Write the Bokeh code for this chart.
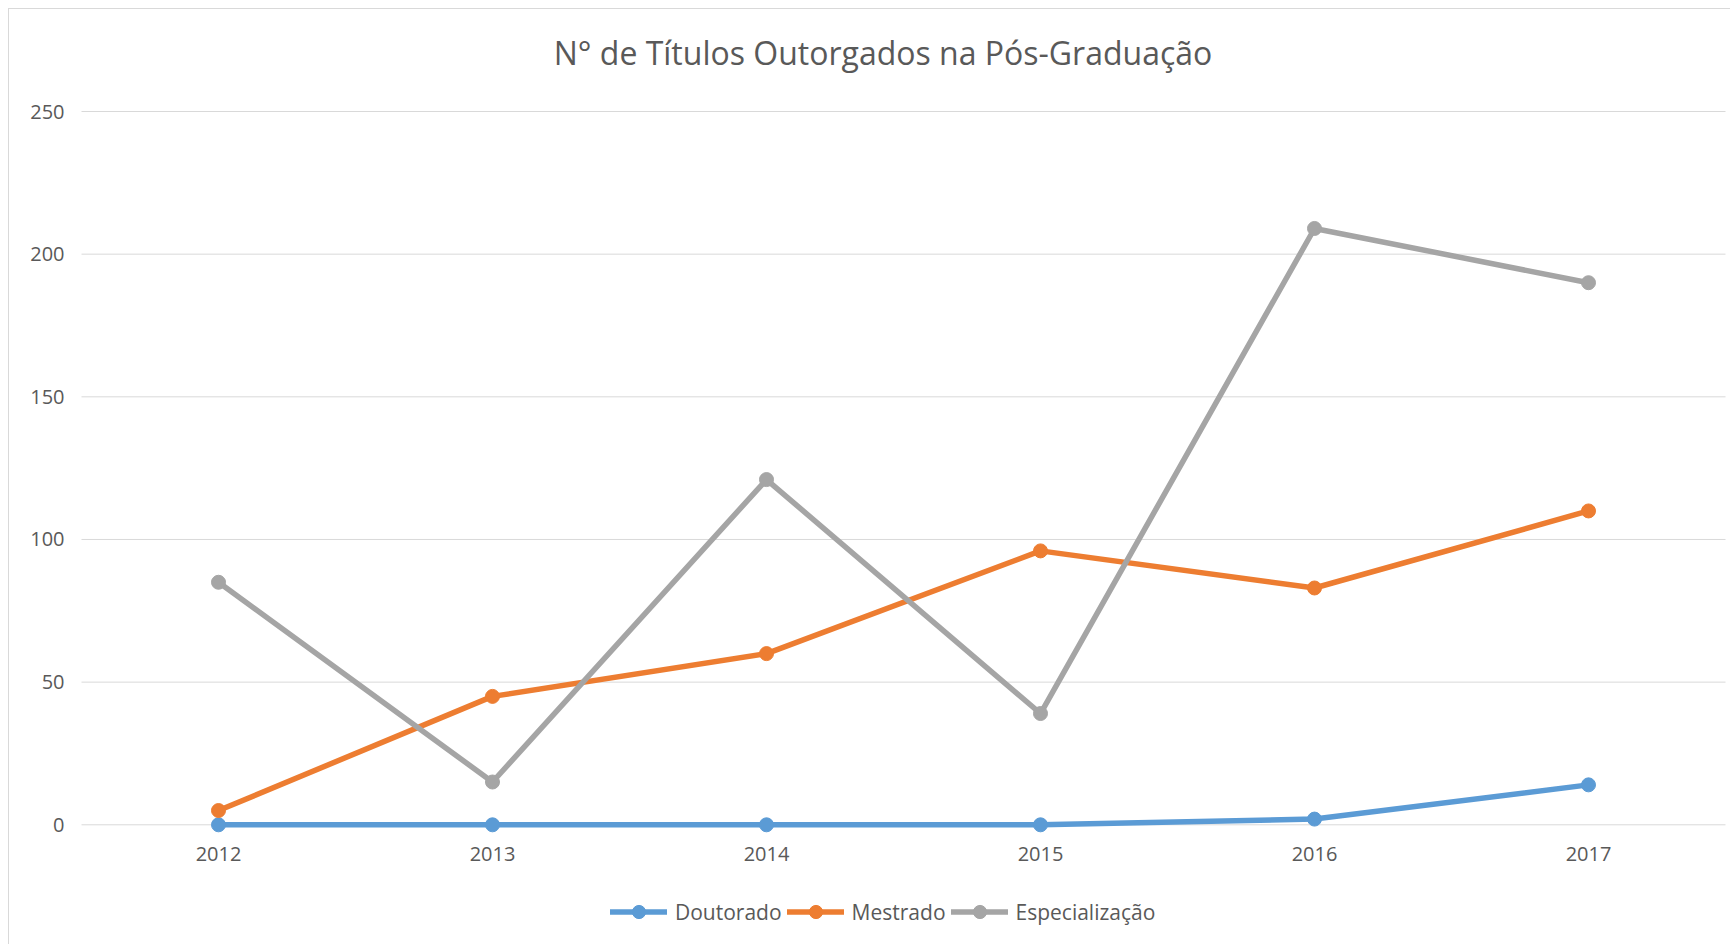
from bokeh.plotting import figure
from bokeh.models import Range1d, Legend, LegendItem, Label
from bokeh.core.properties import value
from bokeh.embed import file_html
from bokeh.resources import INLINE

years = ["2012", "2013", "2014", "2015", "2016", "2017"]
doutorado = [0, 0, 0, 0, 2, 14]
mestrado = [5, 45, 60, 96, 83, 110]
especializacao = [85, 15, 121, 39, 209, 190]
y_ticks = [0, 50, 100, 150, 200, 250]
series_names = ["Doutorado", "Mestrado", "Especialização"]
title_text = "N° de Títulos Outorgados na Pós-Graduação"

FONT = "Open Sans"
TXT = "#595959"
GRID = "#D9D9D9"
colors = ["#5B9BD5", "#ED7D31", "#A5A5A5"]

# canvas / plot-area layout in pixels
W, H = 1722, 936
PL, PR = 72, 1716          # plot area left/right (px)
PT, PB = 102, 815.3        # y of top tick / zero line (px)

n = len(years)
xs = list(range(n))
x_lo, x_hi = -0.5, n - 0.5
y_lo, y_hi = y_ticks[0], y_ticks[-1]
kx = (x_hi - x_lo) / (PR - PL)
ky = (y_hi - y_lo) / (PB - PT)

p = figure(width=W, height=H, output_backend="svg", toolbar_location=None,
           x_range=Range1d(x_lo - PL * kx, x_hi + (W - PR) * kx),
           y_range=Range1d(y_lo - (H - PB) * ky, y_hi + PT * ky),
           min_border=0, x_axis_location=None, y_axis_location=None,
           title=None, margin=(8, 0, 0, 8))
p.outline_line_color = None
p.grid.visible = False
p.background_fill_color = "white"
p.border_fill_color = "white"
p.styles = {"border-left": "1px solid #D9D9D9", "border-top": "1px solid #D9D9D9"}

# horizontal gridlines
p.segment(x0=[x_lo] * len(y_ticks), y0=y_ticks, x1=[x_hi] * len(y_ticks), y1=y_ticks,
          line_color=GRID, line_width=1)

# y tick labels
p.text(x=[x_lo] * len(y_ticks), y=y_ticks, text=[str(t) for t in y_ticks],
       x_offset=-17, text_align="right", text_baseline="middle",
       text_font=value(FONT), text_font_size="20px", text_color=TXT)

# x tick labels
p.text(x=xs, y=[y_lo] * n, text=years, y_offset=29.5,
       text_align="center", text_baseline="middle",
       text_font=value(FONT), text_font_size="20px", text_color=TXT)

items = []
for name, data, c in zip(series_names, [doutorado, mestrado, especializacao], colors):
    r1 = p.line(xs, data, line_color=c, line_width=5.5, line_join="round", line_cap="round")
    r2 = p.scatter(xs, data, size=14, fill_color=c, line_color=c)
    items.append(LegendItem(label=name, renderers=[r1, r2]))

legend = Legend(items=items, orientation="horizontal", location=(601, 17),
                glyph_width=57, glyph_height=33, label_standoff=8, spacing=5,
                padding=0, margin=0, border_line_color=None,
                background_fill_alpha=0,
                label_text_font=FONT, label_text_font_size="21px",
                label_text_color=TXT)
p.add_layout(legend, "center")

title = Label(x=873.5, y=H - 42.5, x_units="screen", y_units="screen", text=title_text,
              text_align="center", text_baseline="middle",
              text_font=FONT, text_font_size="32px", text_color=TXT)
p.add_layout(title)

open("out.html", "w").write(file_html(p, INLINE))
